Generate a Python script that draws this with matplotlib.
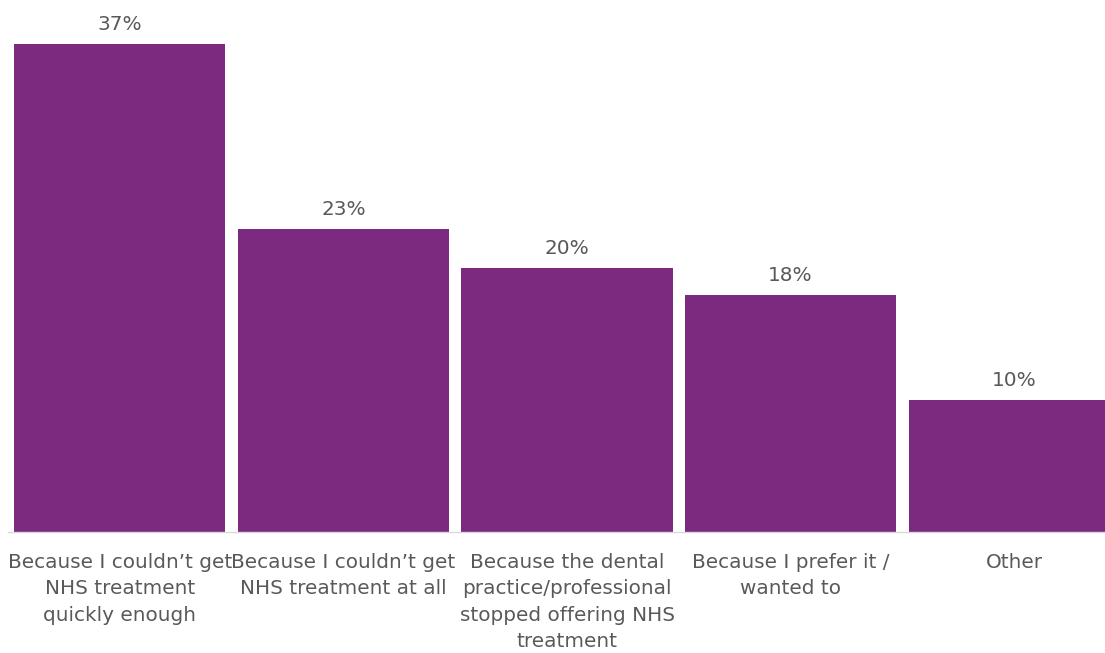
import matplotlib.pyplot as plt

categories = [
    "Because I couldn\u2019t get\nNHS treatment\nquickly enough",
    "Because I couldn\u2019t get\nNHS treatment at all",
    "Because the dental\npractice/professional\nstopped offering NHS\ntreatment",
    "Because I prefer it /\nwanted to",
    "Other",
]
values = [37, 23, 20, 18, 10]

W, H = 1105, 653
fig = plt.figure(figsize=(W / 100, H / 100), dpi=100)
# axes spans a bit past the right edge, like the cropped original
left_px, right_px, base_px = 8, 1126, 532
ax = fig.add_axes([left_px / W, (H - base_px) / H, (right_px - left_px) / W, base_px / H])

purple = "#7B2A7F"
grey = "#595959"

x = range(len(values))
bars = ax.bar(x, values, width=0.945, color=purple)
ax.set_xlim(-0.5, len(values) - 0.5)
ax.set_ylim(0, base_px / 13.19)

for b, v in zip(bars, values):
    ax.annotate(f"{v}%", (b.get_x() + b.get_width() / 2, v), xytext=(0, 7),
                textcoords="offset points", ha="center", va="bottom",
                fontsize=14.4, color=grey)

ax.set_xticks(list(x))
ax.set_xticklabels(categories, fontsize=14.4, color=grey, linespacing=1.5)
ax.tick_params(axis="x", length=0, pad=15)
ax.set_yticks([])
for s in ["top", "right", "left"]:
    ax.spines[s].set_visible(False)
ax.spines["bottom"].set_color("#D9D9D9")
ax.spines["bottom"].set_linewidth(1)

fig.savefig("out.png", dpi=100)
